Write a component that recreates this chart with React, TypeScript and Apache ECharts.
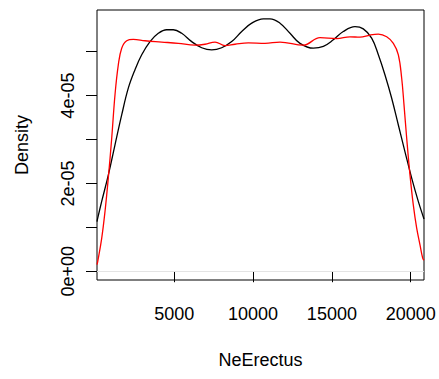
import React, { useEffect, useRef } from "react";
import * as echarts from "echarts";

// NeErectus values and density (units of 1e-5 in the Y arrays)
const blackX = [95, 140, 393, 812, 1237, 1662, 2081, 2506, 2932, 3458, 3985, 4518, 4937, 5470, 6104, 6739, 7373, 8008, 8643, 9277, 9912, 10648, 11072, 11707, 12341, 12976, 13822, 14457, 15089, 15723, 16466, 16992, 17523, 17947, 18370, 18794, 19216, 19638, 20063, 20482, 20844];
const blackY = [1.13, 1.21, 1.59, 2.19, 2.88, 3.56, 4.17, 4.59, 4.93, 5.23, 5.42, 5.50, 5.50, 5.42, 5.23, 5.09, 5.04, 5.09, 5.23, 5.46, 5.65, 5.75, 5.75, 5.65, 5.42, 5.19, 5.08, 5.12, 5.27, 5.46, 5.57, 5.52, 5.31, 4.93, 4.47, 3.94, 3.33, 2.72, 2.12, 1.59, 1.19];

const redX = [95, 140, 393, 603, 812, 1028, 1237, 1447, 1662, 1980, 2398, 3141, 4200, 5254, 6313, 6948, 7583, 8217, 8852, 9696, 10755, 11707, 13186, 14245, 15305, 16148, 16783, 17418, 17947, 18476, 18899, 19216, 19427, 19575, 19746, 19956, 20165, 20380, 20590, 20761, 20844];
const redY = [0.15, 0.22, 0.75, 1.36, 2.12, 3.03, 4.02, 4.70, 5.08, 5.25, 5.28, 5.25, 5.22, 5.19, 5.15, 5.17, 5.22, 5.14, 5.17, 5.20, 5.19, 5.22, 5.15, 5.32, 5.30, 5.34, 5.33, 5.38, 5.40, 5.34, 5.19, 4.93, 4.40, 3.79, 3.03, 2.19, 1.51, 0.98, 0.60, 0.30, 0.25];

const xTicks = [5000, 10000, 15000, 20000];
const yTicks = [0, 1e-5, 2e-5, 3e-5, 4e-5, 5e-5];
const yLabelTicks = [0, 2e-5, 4e-5];
const yLabelTexts = ["0e+00", "2e-05", "4e-05"];

const xName = "NeErectus";
const yName = "Density";

const FONT = "Liberation Sans, Arial, Helvetica, sans-serif";

export default function App() {
  const ref = useRef<HTMLDivElement>(null);
  useEffect(() => {
    if (!ref.current) return;
    const chart = echarts.init(ref.current, null, { renderer: "svg" });
    const scale = 1e-5;
    const blackData = blackX.map((x, i) => [x, blackY[i] * scale]);
    const redData = redX.map((x, i) => [x, redY[i] * scale]);
    chart.setOption({
      animation: false,
      backgroundColor: "#ffffff",
      grid: {
        left: 97,
        right: 15,
        top: 10,
        bottom: 99,
        show: true,
        borderColor: "#000",
        borderWidth: 1,
        backgroundColor: "transparent",
      },
      xAxis: {
        type: "value",
        min: 95,
        max: 20844,
        name: xName,
        nameLocation: "middle",
        nameGap: 71,
        nameTextStyle: { fontFamily: FONT, fontSize: 18, color: "#000" },
        axisLine: { show: false },
        splitLine: { show: false },
        axisTick: {
          show: true,
          length: 11,
          customValues: xTicks,
          lineStyle: { color: "#000", width: 1 },
        },
        axisLabel: {
          customValues: xTicks,
          margin: 25,
          fontFamily: FONT,
          fontSize: 18,
          color: "#000",
          formatter: (v: number) => String(v),
        },
      },
      yAxis: {
        type: "value",
        min: -0.2e-5,
        max: 5.95e-5,
        name: yName,
        nameLocation: "middle",
        nameGap: 66,
        nameTextStyle: { fontFamily: FONT, fontSize: 18, color: "#000" },
        axisLine: { show: false },
        splitLine: { show: false },
        axisTick: {
          show: true,
          length: 11,
          customValues: yTicks,
          lineStyle: { color: "#000", width: 1 },
        },
        axisLabel: {
          customValues: yLabelTicks,
          rotate: 90,
          margin: 20,
          fontFamily: FONT,
          fontSize: 18,
          color: "#000",
          formatter: (v: number) => {
            const i = yLabelTicks.findIndex((t) => Math.abs(t - v) < 1e-9);
            return i >= 0 ? yLabelTexts[i] : "";
          },
        },
      },
      series: [
        {
          type: "line",
          data: blackData,
          showSymbol: false,
          smooth: 0.4,
          clip: true,
          lineStyle: { color: "#000", width: 1.3 },
          markLine: {
            silent: true,
            symbol: "none",
            label: { show: false },
            lineStyle: { color: "#e4e4e4", width: 1, type: "solid" },
            data: [{ yAxis: 0 }],
          },
        },
        {
          type: "line",
          data: redData,
          showSymbol: false,
          smooth: 0.4,
          clip: true,
          lineStyle: { color: "#ff0000", width: 1.3 },
        },
      ],
    });
    return () => chart.dispose();
  }, []);
  return (
    <div
      ref={ref}
      style={{ position: "fixed", left: 0, top: 0, width: 439, height: 379, background: "#fff" }}
    />
  );
}
